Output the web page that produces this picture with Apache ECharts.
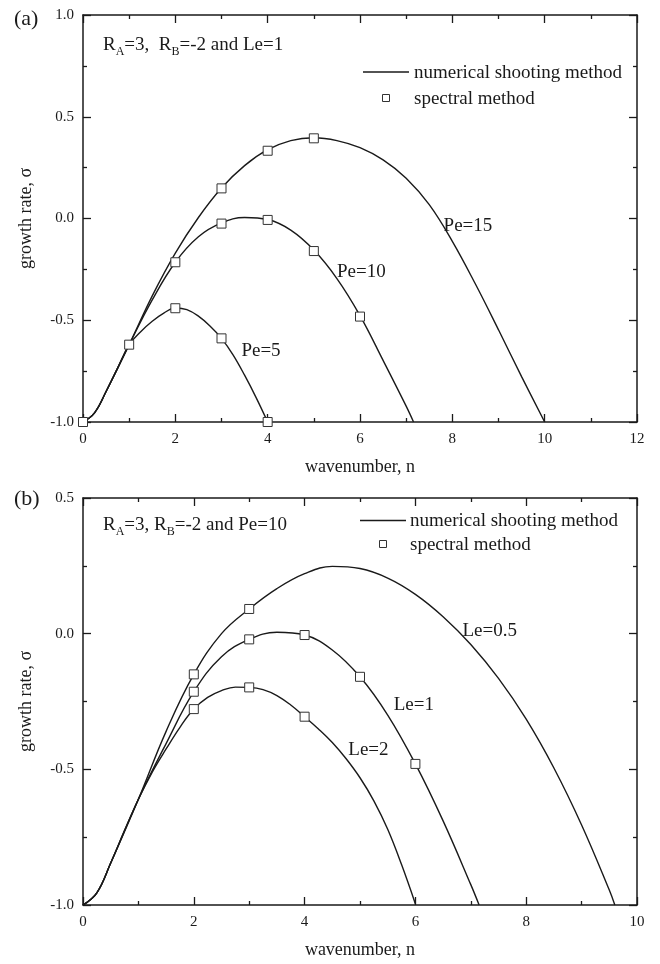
<!DOCTYPE html>
<html>
<head>
<meta charset="utf-8">
<script src="https://cdn.jsdelivr.net/npm/echarts@6.0.0/dist/echarts.min.js"></script>
<style>html,body{margin:0;padding:0;background:#fff}#main{width:660px;height:964px}</style>
</head>
<body>
<div id="main"></div>
<script>
var myChart = echarts.init(document.getElementById('main'));
var font = 'Liberation Serif';
var ink = '#1a1a1a';

// (a) R_A=3, R_B=-2, Le=1 — numerical shooting curves
var pe15X = [0, 0.25, 0.5, 1, 1.5, 2, 2.5, 3, 3.5, 4, 4.5, 5, 5.5, 6, 6.5, 7, 7.5, 8, 8.5, 9, 9.5, 10];
var pe15Y = [-1, -0.955, -0.85, -0.62, -0.38, -0.17, 0.005, 0.15, 0.26, 0.338, 0.383, 0.397, 0.383, 0.348, 0.288, 0.198, 0.068, -0.112, -0.322, -0.547, -0.777, -1.0];
var pe10X = [0, 0.25, 0.5, 1, 1.5, 2, 2.5, 3, 3.5, 4, 4.5, 5, 5.5, 6, 6.5, 7, 7.16];
var pe10Y = [-1, -0.955, -0.85, -0.62, -0.40, -0.215, -0.09, -0.022, 0.005, -0.005, -0.057, -0.155, -0.295, -0.477, -0.697, -0.922, -1.0];
var pe5X = [0, 0.25, 0.5, 0.75, 1, 1.25, 1.5, 1.75, 2, 2.25, 2.5, 2.75, 3, 3.25, 3.5, 3.75, 4];
var pe5Y = [-1, -0.955, -0.85, -0.735, -0.62, -0.556, -0.505, -0.465, -0.44, -0.448, -0.48, -0.528, -0.589, -0.67, -0.77, -0.88, -1.0];
// (a) spectral method points
var specA = [[0, -1], [1, -0.62], [2, -0.215], [3, 0.148], [4, 0.333], [5, 0.394],
  [3, -0.025], [4, -0.007], [5, -0.16], [6, -0.482], [2, -0.441], [3, -0.589], [4, -1.0]];
var labelsA = [[7.8, -0.037, 'Pe=15'], [5.49, -0.265, 'Pe=10'], [3.42, -0.651, 'Pe=5']];

// (b) R_A=3, R_B=-2, Pe=10
var le05X = [0, 0.25, 0.5, 1, 1.5, 2, 2.5, 3, 3.5, 4, 4.5, 5, 5.5, 6, 6.5, 7, 7.5, 8, 8.5, 9, 9.5, 9.6];
var le05Y = [-1, -0.955, -0.845, -0.61, -0.36, -0.15, 0.0, 0.091, 0.166, 0.221, 0.248, 0.24, 0.205, 0.145, 0.0625, -0.04, -0.165, -0.315, -0.495, -0.705, -0.945, -1.0];
var le1X = [0, 0.25, 0.5, 1, 1.5, 2, 2.5, 3, 3.5, 4, 4.5, 5, 5.5, 6, 6.5, 7, 7.15];
var le1Y = [-1, -0.955, -0.845, -0.61, -0.405, -0.214, -0.085, -0.021, 0.005, -0.005, -0.06, -0.159, -0.30, -0.48, -0.69, -0.925, -1.0];
var le2X = [0, 0.25, 0.5, 0.75, 1, 1.25, 1.5, 1.75, 2, 2.25, 2.5, 2.75, 3, 3.25, 3.5, 3.75, 4, 4.25, 4.5, 4.75, 5, 5.25, 5.5, 5.75, 6];
var le2Y = [-1, -0.955, -0.845, -0.725, -0.61, -0.51, -0.425, -0.345, -0.278, -0.235, -0.21, -0.197, -0.198, -0.206, -0.228, -0.263, -0.306, -0.351, -0.401, -0.461, -0.531, -0.616, -0.721, -0.851, -0.996];
var specB = [[2, -0.15], [3, 0.091], [2, -0.214], [3, -0.021], [4, -0.005], [5, -0.159], [6, -0.48],
  [2, -0.278], [3, -0.198], [4, -0.306]];
var labelsB = [[6.84, 0.008, 'Le=0.5'], [5.6, -0.263, 'Le=1'], [4.78, -0.429, 'Le=2']];

function zip(xs, ys) {
  return xs.map(function (x, i) { return [x, ys[i]]; });
}

var tickStyle = {color: ink, width: 1.3};

function xAxes(g, max) {
  var base = {
    gridIndex: g, type: 'value', min: 0, max: max, interval: 2,
    axisLine: {onZero: false, lineStyle: {color: ink, width: 1.5}},
    axisTick: {inside: true, length: 8, lineStyle: tickStyle},
    minorTick: {show: true, splitNumber: 2, length: 4, lineStyle: tickStyle},
    splitLine: {show: false}
  };
  var bottom = Object.assign({}, base, {
    position: 'bottom', name: 'wavenumber, n', nameLocation: 'middle', nameGap: 36,
    nameTextStyle: {fontFamily: font, fontSize: 18, color: ink},
    axisLabel: {fontFamily: font, fontSize: 15, color: ink, margin: 10}
  });
  var top = Object.assign({}, base, {position: 'top', axisLabel: {show: false}});
  return [bottom, top];
}

function yAxes(g, min, max) {
  var base = {
    gridIndex: g, type: 'value', min: min, max: max, interval: 0.5,
    axisLine: {onZero: false, lineStyle: {color: ink, width: 1.5}},
    axisTick: {inside: true, length: 8, lineStyle: tickStyle},
    minorTick: {show: true, splitNumber: 2, length: 4, lineStyle: tickStyle},
    splitLine: {show: false}
  };
  var left = Object.assign({}, base, {
    position: 'left', name: 'growth rate, \u03c3', nameLocation: 'middle', nameGap: 48, nameRotate: 90,
    nameTextStyle: {fontFamily: font, fontSize: 18, color: ink},
    axisLabel: {fontFamily: font, fontSize: 15, color: ink, margin: 9,
      formatter: function (v) { return v.toFixed(1); }}
  });
  var right = Object.assign({}, base, {position: 'right', axisLabel: {show: false}});
  return [left, right];
}

function curve(xi, yi, xs, ys) {
  return {
    type: 'line', xAxisIndex: xi, yAxisIndex: yi, name: 'numerical shooting method',
    data: zip(xs, ys), smooth: 0.4, symbol: 'none', showSymbol: false,
    lineStyle: {color: ink, width: 1.4}, z: 2
  };
}

function spectral(xi, yi, pts) {
  return {
    type: 'scatter', xAxisIndex: xi, yAxisIndex: yi, name: 'spectral method',
    data: pts, symbol: 'rect', symbolSize: 9,
    itemStyle: {color: '#fff', borderColor: '#333', borderWidth: 1, opacity: 1}, z: 4
  };
}

function tags(xi, yi, list) {
  return {
    type: 'scatter', xAxisIndex: xi, yAxisIndex: yi, data: list, symbolSize: 1,
    itemStyle: {color: 'rgba(0,0,0,0)', opacity: 1}, silent: true, z: 5,
    label: {show: true, position: 'right', distance: 0, fontFamily: font, fontSize: 19, color: ink, opacity: 1,
      formatter: function (p) { return p.value[2]; }}
  };
}

function note(x, y, parts) {
  return {
    type: 'text', left: x, top: y,
    style: {
      text: parts, fill: ink,
      rich: {
        n: {fontFamily: font, fontSize: 19, lineHeight: 24, color: ink},
        s: {fontFamily: font, fontSize: 12, lineHeight: 10, verticalAlign: 'bottom', color: ink}
      }
    }
  };
}

function legendGraphic(lx, ly, sy, tx) {
  return [
    {type: 'line', shape: {x1: lx, y1: ly, x2: lx + 46, y2: ly}, style: {stroke: ink, lineWidth: 1.5}},
    {type: 'text', x: tx, y: ly + 1, style: {text: 'numerical shooting method', fontFamily: font, fontSize: 19, fill: ink, verticalAlign: 'middle'}},
    {type: 'rect', shape: {x: lx + 19.5, y: sy - 3.5, width: 7, height: 7}, style: {fill: '#fff', stroke: '#333', lineWidth: 1}},
    {type: 'text', x: tx, y: sy + 1, style: {text: 'spectral method', fontFamily: font, fontSize: 19, fill: ink, verticalAlign: 'middle'}}
  ];
}

var option = {
  backgroundColor: '#fff',
  animation: false,
  grid: [
    {left: 83, top: 15, width: 554, height: 407, outerBoundsMode: 'none'},
    {left: 83, top: 498, width: 554, height: 407, outerBoundsMode: 'none'}
  ],
  xAxis: xAxes(0, 12).concat(xAxes(1, 10)),
  yAxis: yAxes(0, -1, 1).concat(yAxes(1, -1, 0.5)),
  series: [
    curve(0, 0, pe15X, pe15Y),
    curve(0, 0, pe10X, pe10Y),
    curve(0, 0, pe5X, pe5Y),
    spectral(0, 0, specA),
    tags(0, 0, labelsA),
    curve(2, 2, le05X, le05Y),
    curve(2, 2, le1X, le1Y),
    curve(2, 2, le2X, le2Y),
    spectral(2, 2, specB),
    tags(2, 2, labelsB)
  ],
  graphic: [
    {type: 'text', left: 14, top: 8, style: {text: '(a)', fontFamily: font, fontSize: 22, fill: ink}},
    {type: 'text', left: 14, top: 488, style: {text: '(b)', fontFamily: font, fontSize: 22, fill: ink}},
    note(103, 36, '{n|R}{s|A}{n|=3,  R}{s|B}{n|=-2 and Le=1}'),
    note(103, 516, '{n|R}{s|A}{n|=3, R}{s|B}{n|=-2 and Pe=10}')
  ].concat(legendGraphic(363, 72, 98, 414), legendGraphic(360, 520.5, 544, 410))
};
myChart.setOption(option);
</script>
</body>
</html>
